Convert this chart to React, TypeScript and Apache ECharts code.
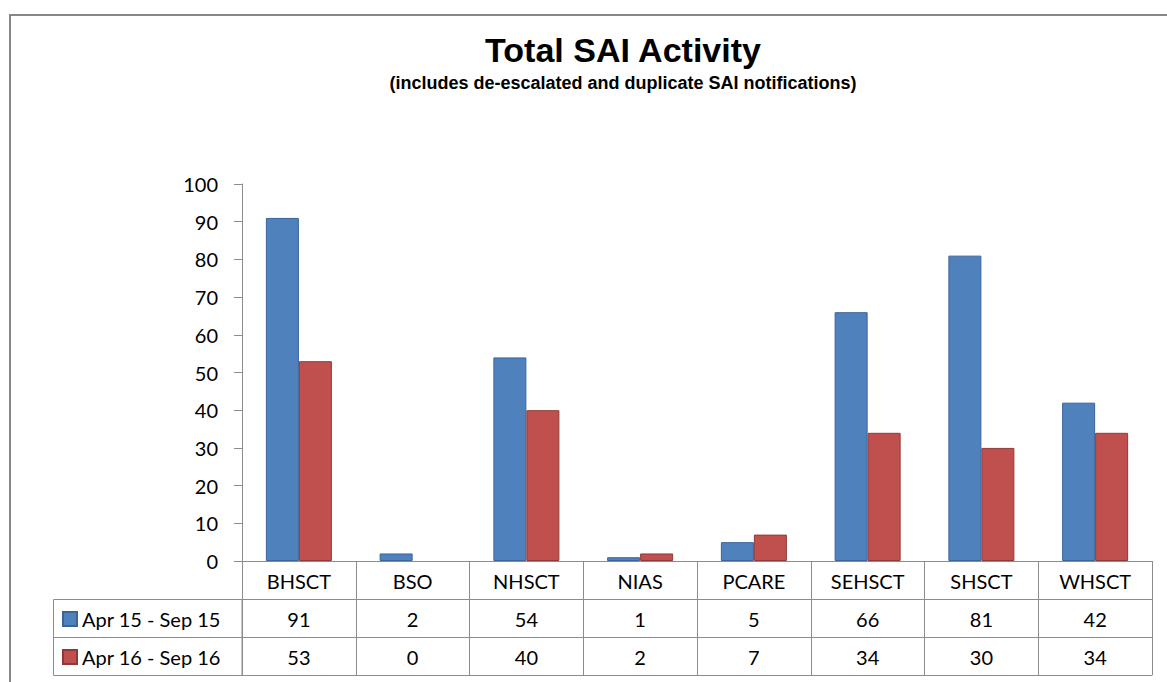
import React, { useEffect, useRef } from "react";
import * as echarts from "echarts";

const categories = ["BHSCT", "BSO", "NHSCT", "NIAS", "PCARE", "SEHSCT", "SHSCT", "WHSCT"];
const seriesNames = ["Apr 15 - Sep 15", "Apr 16 - Sep 16"];
const apr15Sep15 = [91, 2, 54, 1, 5, 66, 81, 42];
const apr16Sep16 = [53, 0, 40, 2, 7, 34, 30, 34];
const yTicks = { min: 0, max: 100, interval: 10 };
const titleText = "Total SAI Activity";
const subtitleText = "(includes de-escalated and duplicate SAI notifications)";

const LINE = "#8c8c8c";
const FONT = "Lato, 'Open Sans', sans-serif";

export default function App() {
  const ref = useRef<HTMLDivElement>(null);
  useEffect(() => {
    document.body.style.margin = "0";
    if (!ref.current) return;
    const chart = echarts.init(ref.current, undefined, { renderer: "svg" });
    const tableAxis = (data: (string | number)[], offset: number, showLabel: boolean, showTick: boolean) => ({
      type: "category",
      data: data.map(String),
      position: "bottom",
      offset,
      boundaryGap: true,
      axisLine: { show: true, lineStyle: { color: LINE, width: 1 } },
      axisTick: { show: showTick, length: 38, inside: false, lineStyle: { color: LINE, width: 1 } },
      axisLabel: { show: showLabel, interval: 0, margin: 10, fontSize: 20, color: "#000", fontFamily: FONT },
      splitLine: { show: false },
    });
    const barData = (vals: number[]) =>
      vals.map((v) => (v === 0 ? { value: v, itemStyle: { borderWidth: 0 } } : v));
    chart.setOption({
      animation: false,
      backgroundColor: "#fff",
      title: {
        text: titleText,
        subtext: subtitleText,
        left: 618,
        textAlign: "center",
        top: 28,
        itemGap: 7,
        textStyle: { fontFamily: "'Liberation Sans', Arial, sans-serif", fontWeight: "bold", fontSize: 34, color: "#000" },
        subtextStyle: { fontFamily: "'Liberation Sans', Arial, sans-serif", fontWeight: "bold", fontSize: 18, color: "#000" },
      },
      legend: {
        orient: "vertical",
        left: 62,
        top: 609,
        padding: 0,
        itemGap: 18,
        itemWidth: 14,
        itemHeight: 14,
        icon: "rect",
        textStyle: { fontSize: 20, lineHeight: 20, color: "#000", fontFamily: FONT },
        data: seriesNames,
      },
      grid: { left: 242, right: 15, top: 184, bottom: 121, containLabel: false },
      xAxis: [
        tableAxis(categories, 0, true, true),
        tableAxis(apr15Sep15, 38, true, true),
        tableAxis(apr16Sep16, 76, true, true),
        tableAxis(categories, 114, false, false),
      ],
      yAxis: {
        type: "value",
        min: yTicks.min,
        max: yTicks.max,
        interval: yTicks.interval,
        axisLine: { show: true, lineStyle: { color: LINE } },
        axisTick: { show: true, length: 8, lineStyle: { color: LINE } },
        axisLabel: { fontSize: 20, color: "#000", margin: 24, fontFamily: FONT },
        splitLine: { show: false },
      },
      graphic: [
        {
          type: "rect",
          shape: { x: 10, y: 15, width: 1200, height: 720 },
          style: { fill: "none", stroke: "#878787", lineWidth: 2 },
          silent: true,
        },
        {
          type: "rect",
          shape: { x: 53.5, y: 599.5, width: 188.5, height: 76 },
          style: { fill: "none", stroke: LINE, lineWidth: 1 },
          silent: true,
        },
        {
          type: "line",
          shape: { x1: 53.5, y1: 637.5, x2: 242, y2: 637.5 },
          style: { stroke: LINE, lineWidth: 1 },
          silent: true,
        },
      ],
      series: [
        {
          name: seriesNames[0],
          type: "bar",
          data: barData(apr15Sep15),
          barWidth: 33,
          barGap: "0%",
          itemStyle: { color: "#4f81bd", borderColor: "#3a649a", borderWidth: 1 },
        },
        {
          name: seriesNames[1],
          type: "bar",
          data: barData(apr16Sep16),
          barWidth: 33,
          barGap: "0%",
          itemStyle: { color: "#c0504d", borderColor: "#8f3a38", borderWidth: 1 },
        },
      ],
    });
    return () => chart.dispose();
  }, []);
  return <div ref={ref} style={{ width: 1167, height: 682 }} />;
}
